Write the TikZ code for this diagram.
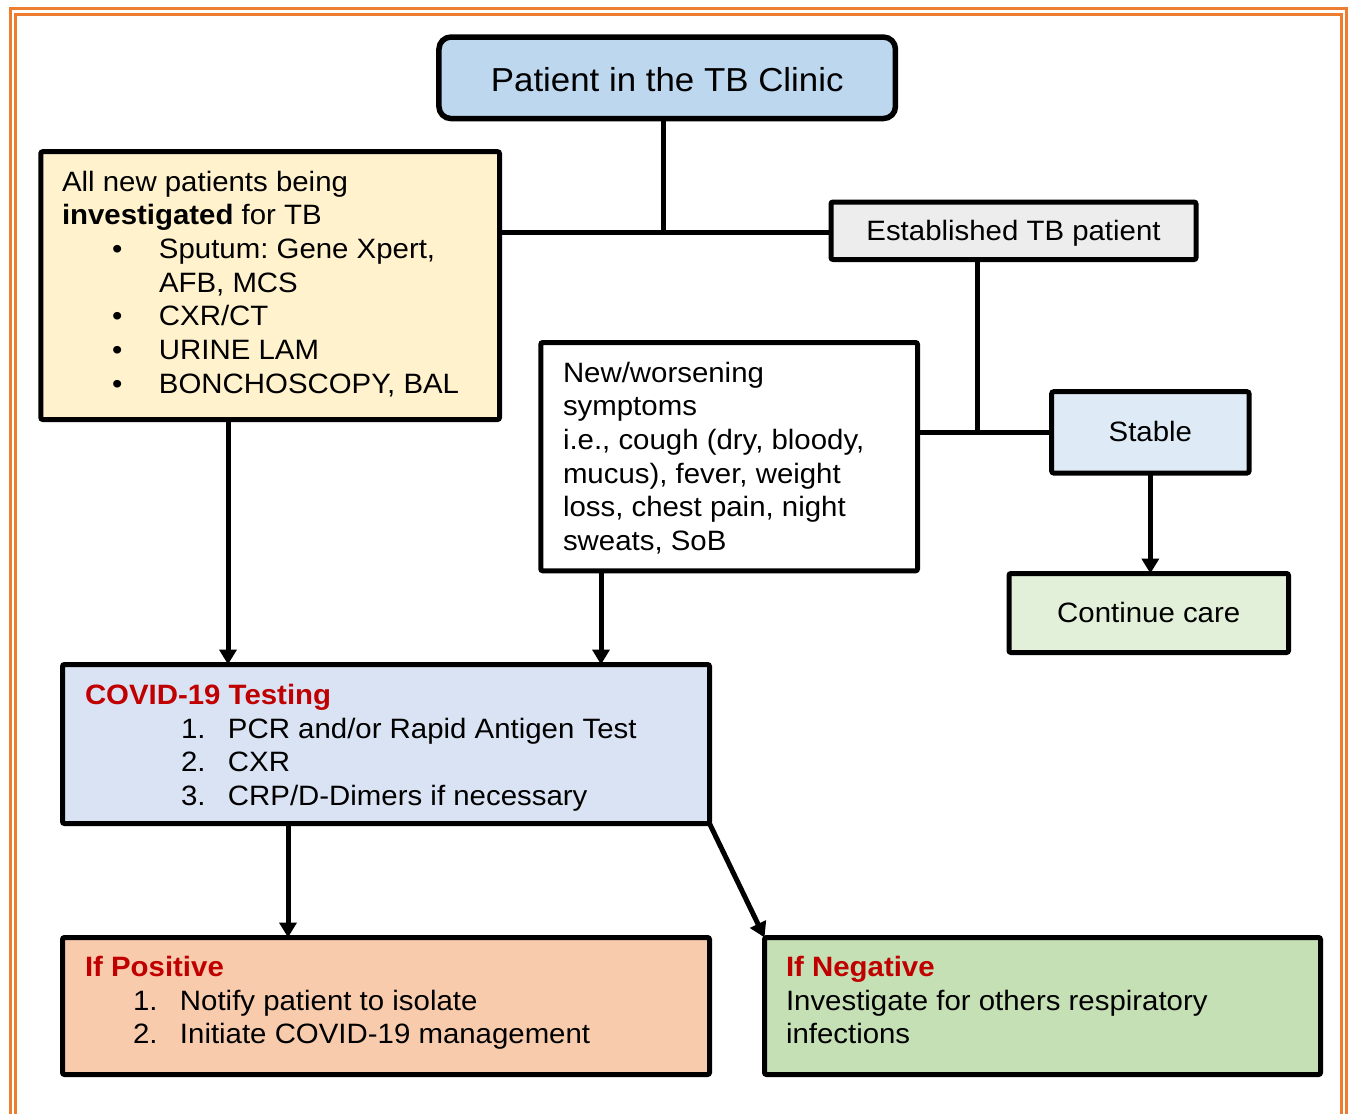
\documentclass[tikz,border=0pt]{standalone}
\usepackage{fontspec}
\setmainfont{Liberation Sans}[FakeStretch=1.05]
\usetikzlibrary{arrows.meta}
\frenchspacing

\definecolor{framecol}{HTML}{ED7D31}
\definecolor{headred}{HTML}{C00000}
\definecolor{fillclinic}{HTML}{BDD7EE}
\definecolor{fillnew}{HTML}{FFF2CC}
\definecolor{fillest}{HTML}{EDEDED}
\definecolor{fillstable}{HTML}{DEEBF7}
\definecolor{fillcont}{HTML}{E2F0D9}
\definecolor{fillcovid}{HTML}{DAE3F3}
\definecolor{fillpos}{HTML}{F8CBAD}
\definecolor{fillneg}{HTML}{C5E0B4}

\newcommand\leadstrut{\rule{0pt}{24pt}}

\begin{document}
\begin{tikzpicture}[x=1pt,y=-1pt,
  frame/.style={draw=framecol,line width=3pt},
  box/.style={draw=black,line width=5pt,rounded corners=2pt,inner sep=0pt,outer sep=0pt},
  bodyfont/.style={font=\frenchspacing\fontsize{28}{33.7}\selectfont},
  label/.style={bodyfont,text height=19pt,text depth=0pt},
  txt/.style={inner sep=0pt,outer sep=0pt,align=left,anchor=north west,bodyfont},
  conn/.style={draw=black,line width=5pt},
  arr/.style={conn,-{Triangle[width=17pt,length=15pt]}}
]
\useasboundingbox (0,0) rectangle (1351,1113);
\clip (0,0) rectangle (1351,1113);
\fill[white] (0,0) rectangle (1351,1113);

% double orange page frame (runs past the lower edge)
\draw[frame] (10.5,8.7) rectangle (1346,1140);
\draw[frame] (15.3,14.2) rectangle (1341,1140);

% ---- boxes ----
\node[box,line width=5.5pt,rounded corners=12pt,fill=fillclinic,
      minimum width=456.5pt,minimum height=81.5pt,
      font=\fontsize{33.2}{38}\selectfont,text height=27pt,text depth=0pt] (clinic) at (667.2,77.8) {Patient in the TB Clinic};

\node[box,fill=fillnew,minimum width=458.7pt,minimum height=267.8pt] (newpat) at (270.15,285.6) {};
\node[txt] (newpat-t) at (62,167) {\leadstrut All new patients being\\
  \textbf{investigated} for TB\\
  \hspace*{50pt}\makebox[47pt][l]{\textbullet}Sputum: Gene Xpert,\\
  \hspace*{97pt}AFB, MCS\\
  \hspace*{50pt}\makebox[47pt][l]{\textbullet}CXR/CT\\
  \hspace*{50pt}\makebox[47pt][l]{\textbullet}URINE LAM\\
  \hspace*{50pt}\makebox[47pt][l]{\textbullet}BONCHOSCOPY, BAL};

\node[box,fill=fillest,minimum width=365pt,minimum height=57.5pt,label] (estab) at (1013.5,230.75) {Established TB patient};

\node[box,fill=white,minimum width=376.7pt,minimum height=228.3pt] (sympt) at (729.15,456.65) {};
\node[txt] (sympt-t) at (563,358) {\leadstrut New/worsening\\
  symptoms\\
  i.e., cough (dry, bloody,\\
  mucus), fever, weight\\
  loss, chest pain, night\\
  sweats, SoB};

\node[box,fill=fillstable,minimum width=197.3pt,minimum height=81.3pt,label] (stable) at (1150.35,432.35) {Stable};

\node[box,fill=fillcont,minimum width=279.5pt,minimum height=79pt,label] (cont) at (1148.75,613) {Continue care};

\node[box,fill=fillcovid,minimum width=647pt,minimum height=159pt] (covid) at (386,744) {};
\node[txt] (covid-t) at (85,680.5) {\leadstrut\textbf{\color{headred}COVID-19 Testing}\\
  \hspace*{96pt}\makebox[47pt][l]{1.}PCR and/or Rapid Antigen Test\\
  \hspace*{96pt}\makebox[47pt][l]{2.}CXR\\
  \hspace*{96pt}\makebox[47pt][l]{3.}CRP/D-Dimers if necessary};

\node[box,fill=fillpos,minimum width=647pt,minimum height=137pt] (pos) at (386,1006) {};
\node[txt] (pos-t) at (85,952.5) {\leadstrut\textbf{\color{headred}If Positive}\\
  \hspace*{48pt}\makebox[47pt][l]{1.}Notify patient to isolate\\
  \hspace*{48pt}\makebox[47pt][l]{2.}Initiate COVID-19 management};

\node[box,fill=fillneg,minimum width=556pt,minimum height=137pt] (neg) at (1042.5,1006) {};
\node[txt] (neg-t) at (786,952.5) {\leadstrut\textbf{\color{headred}If Negative}\\
  Investigate for others respiratory\\
  infections};

% ---- connectors ----
\coordinate (j1) at (663,232);
\coordinate (j2) at (977,432);
\coordinate (xa) at (228,0);
\coordinate (xb) at (601,0);
\coordinate (xc) at (288,0);

\draw[conn] (clinic.south -| j1) -- (j1);
\draw[conn] (newpat.east |- j1) -- (estab.west |- j1);
\draw[conn] (estab.south -| j2) -- (j2);
\draw[conn] (sympt.east |- j2) -- (stable.west |- j2);
\draw[arr] (stable.south) -- (stable.south |- cont.north);
\draw[arr] (newpat.south -| xa) -- (covid.north -| xa);
\draw[arr] (sympt.south -| xb) -- (covid.north -| xb);
\draw[arr] (covid.south -| xc) -- (pos.north -| xc);
\draw[arr] (covid.south east) -- (neg.north west);
\end{tikzpicture}
\end{document}
